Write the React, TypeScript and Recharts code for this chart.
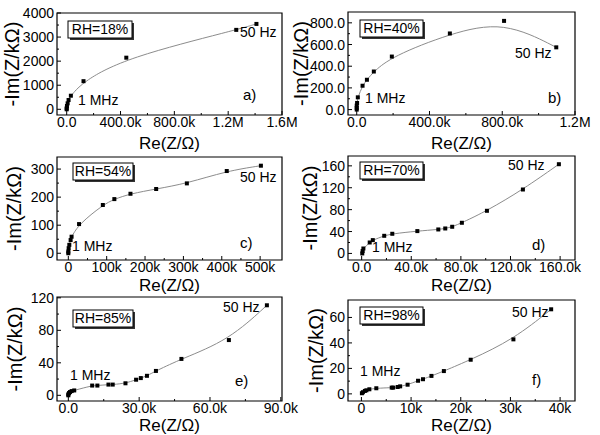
import { ComposedChart, XAxis, YAxis, Line, Scatter, ReferenceArea, Label } from 'recharts'

const FONT = '"Liberation Sans", Arial, sans-serif'

// RH = 18 % : Re(Z) in ohm, -Im(Z) in kohm, from 1 MHz to 50 Hz
const rh18Re = [0, 0, 2000, 7000, 14000, 31000, 125000, 443000, 1260000, 1410000]
const rh18Im = [0, 41, 137, 247, 385, 564, 1168, 2144, 3299, 3546]

// RH = 40 %
const rh40Re = [0, 0, 0, 2000, 6000, 32000, 56000, 94000, 193000, 512000, 810000, 1097000]
const rh40Im = [0, 15, 37, 61, 113, 220, 275, 351, 489, 702, 818, 574]

// RH = 54 %
const rh54Re = [0, 0, 900, 2600, 6000, 8500, 28000, 90000, 120000, 162000, 229000, 309000, 413000, 502000]
const rh54Im = [0, 6, 18, 30, 47, 59, 104, 172, 193, 212, 229, 249, 293, 312]

// RH = 70 %
const rh70Re = [500, 800, 1400, 6500, 9000, 18200, 24700, 44900, 61800, 67400, 73000, 80800, 101000, 130000, 159000]
const rh70Im = [0, 4.3, 9, 20, 24.3, 32.2, 35.9, 40.8, 43.8, 45.6, 48.7, 56, 77.9, 116.8, 163]

// RH = 85 %
const rh85Re = [0, 0, 300, 700, 1400, 2500, 10100, 12300, 17000, 18800, 24200, 28700, 30700, 33300, 37100, 47900, 68000, 84100]
const rh85Im = [0, 1.2, 2.8, 4, 5.2, 6, 12, 12, 13.2, 13.2, 14.8, 19.2, 21.2, 24, 30, 44.8, 68, 110.8]

// RH = 98 %
const rh98Re = [100, 300, 700, 1000, 1600, 3000, 6100, 6400, 7300, 7800, 9300, 11400, 12400, 14100, 16600, 22000, 30600, 38200]
const rh98Im = [0.5, 1.3, 2.3, 2.8, 3.6, 4.4, 4.9, 4.9, 5.4, 5.9, 7.2, 10.3, 11.5, 14.1, 17.9, 26.8, 42.8, 66.4]

// ticks
const aXTicks = [0, 400000, 800000, 1200000, 1600000]
const aXLabels = ['0.0', '400.0k', '800.0k', '1.2M', '1.6M']
const aXMinor = [200000, 600000, 1000000, 1400000]
const aYTicks = [0, 1000, 2000, 3000, 4000]
const aYLabels = ['0', '1000', '2000', '3000', '4000']
const aYMinor = [500, 1500, 2500, 3500]

const bXTicks = [0, 400000, 800000, 1200000]
const bXLabels = ['0.0', '400.0k', '800.0k', '1.2M']
const bXMinor = [200000, 600000, 1000000]
const bYTicks = [0, 200, 400, 600, 800]
const bYLabels = ['0.0', '200.0', '400.0', '600.0', '800.0']
const bYMinor = [100, 300, 500, 700]

const cXTicks = [0, 100000, 200000, 300000, 400000, 500000]
const cXLabels = ['0', '100k', '200k', '300k', '400k', '500k']
const cXMinor = [50000, 150000, 250000, 350000, 450000]
const cYTicks = [0, 100, 200, 300]
const cYLabels = ['0', '100', '200', '300']
const cYMinor = [50, 150, 250]

const dXTicks = [0, 40000, 80000, 120000, 160000]
const dXLabels = ['0.0', '40.0k', '80.0k', '120.0k', '160.0k']
const dXMinor = [20000, 60000, 100000, 140000]
const dYTicks = [0, 40, 80, 120, 160]
const dYLabels = ['0', '40', '80', '120', '160']
const dYMinor = [20, 60, 100, 140]

const eXTicks = [0, 30000, 60000, 90000]
const eXLabels = ['0.0', '30.0k', '60.0k', '90.0k']
const eXMinor = [15000, 45000, 75000]
const eYTicks = [0, 40, 80, 120]
const eYLabels = ['0', '40', '80', '120']
const eYMinor = [20, 60, 100]

const fXTicks = [0, 10000, 20000, 30000, 40000]
const fXLabels = ['0', '10k', '20k', '30k', '40k']
const fXMinor = [5000, 15000, 25000, 35000]
const fYTicks = [0, 20, 40, 60]
const fYLabels = ['0', '20', '40', '60']
const fYMinor = [10, 30, 50]

const panels = [
  {
    id: 'a', rh: 'RH=18%', re: rh18Re, im: rh18Im,
    xDomain: [-72000, 1600000], yDomain: [-237, 4000],
    xTicks: aXTicks, xLabels: aXLabels, xMinor: aXMinor,
    yTicks: aYTicks, yLabels: aYLabels, yMinor: aYMinor,
    left: 0, top: 0, width: 300, height: 152, mTop: 13, mRight: 18, yw: 57, xh: 37,
    yOff: 12, xOff: 3, tickDy: 12,
  },
  {
    id: 'b', rh: 'RH=40%', re: rh40Re, im: rh40Im,
    xDomain: [-48000, 1200000], yDomain: [-50, 900],
    xTicks: bXTicks, xLabels: bXLabels, xMinor: bXMinor,
    yTicks: bYTicks, yLabels: bYLabels, yMinor: bYMinor,
    left: 290, top: 0, width: 310, height: 152, mTop: 12, mRight: 25, yw: 58, xh: 37,
    yOff: 11, xOff: 3, tickDy: 12,
  },
  {
    id: 'c', rh: 'RH=54%', re: rh54Re, im: rh54Im,
    xDomain: [-29500, 557000], yDomain: [-24, 343],
    xTicks: cXTicks, xLabels: cXLabels, xMinor: cXMinor,
    yTicks: cYTicks, yLabels: cYLabels, yMinor: cYMinor,
    left: 0, top: 140, width: 300, height: 155, mTop: 17, mRight: 18, yw: 57, xh: 35,
    yOff: 14, xOff: 4, tickDy: 12,
  },
  {
    id: 'd', rh: 'RH=70%', re: rh70Re, im: rh70Im,
    xDomain: [-11000, 172000], yDomain: [-12, 178],
    xTicks: dXTicks, xLabels: dXLabels, xMinor: dXMinor,
    yTicks: dYTicks, yLabels: dYLabels, yMinor: dYMinor,
    left: 290, top: 140, width: 310, height: 155, mTop: 16, mRight: 25, yw: 58, xh: 35,
    yOff: 20, xOff: 4, tickDy: 12,
  },
  {
    id: 'e', rh: 'RH=85%', re: rh85Re, im: rh85Im,
    xDomain: [-4800, 90500], yDomain: [-7, 121],
    xTicks: eXTicks, xLabels: eXLabels, xMinor: eXMinor,
    yTicks: eYTicks, yLabels: eYLabels, yMinor: eYMinor,
    left: 0, top: 285, width: 300, height: 150, mTop: 12, mRight: 18, yw: 57, xh: 34,
    yOff: 15, xOff: 4, tickDy: 11.5,
  },
  {
    id: 'f', rh: 'RH=98%', re: rh98Re, im: rh98Im,
    xDomain: [-2700, 43000], yDomain: [-5.6, 73.7],
    xTicks: fXTicks, xLabels: fXLabels, xMinor: fXMinor,
    yTicks: fYTicks, yLabels: fYLabels, yMinor: fYMinor,
    left: 290, top: 285, width: 310, height: 150, mTop: 15, mRight: 25, yw: 58, xh: 34,
    yOff: 26, xOff: 4, tickDy: 11.5,
  },
]

// annotation placement (page coordinates, text baselines)
const notes = [
  { box: [68, 21, 64, 17], hz: [240, 37], mhz: [78, 105], tag: [243, 100] },
  { box: [360, 20, 63, 17], hz: [515, 58], mhz: [365, 103], tag: [548, 103] },
  { box: [73, 163, 60, 17], hz: [240, 182], mhz: [72, 251], tag: [240, 248] },
  { box: [360, 162, 63, 17], hz: [508, 170], mhz: [372, 252], tag: [532, 250] },
  { box: [73, 310, 60, 17], hz: [223, 312], mhz: [70, 380], tag: [235, 386] },
  { box: [360, 307, 63, 17], hz: [512, 317], mhz: [360, 376], tag: [532, 385] },
]

const xTick = (ticks: number[], labels: string[], dy: number) => (props: any) => {
  const { x, y, payload } = props
  const i = ticks.indexOf(payload.value)
  const major = i >= 0
  return (
    <g>
      <line x1={x} x2={x} y1={y} y2={y - (major ? 4 : 2)} stroke="#000" />
      {major && (
        <text x={x} y={y + dy} textAnchor="middle" fontSize={14} fontFamily={FONT} fill="#000">
          {labels[i]}
        </text>
      )}
    </g>
  )
}

const yTick = (ticks: number[], labels: string[]) => (props: any) => {
  const { x, y, payload } = props
  const i = ticks.indexOf(payload.value)
  const major = i >= 0
  return (
    <g>
      <line x1={x} x2={x + (major ? 4 : 2)} y1={y} y2={y} stroke="#000" />
      {major && (
        <text x={x - 3} y={y + 5} textAnchor="end" fontSize={14} fontFamily={FONT} fill="#000">
          {labels[i]}
        </text>
      )}
    </g>
  )
}

const square = (props: any) => (
  <rect x={props.cx - 2} y={props.cy - 2} width={4} height={4} fill="#000" />
)

function Panel({ p }: { p: any }) {
  const data = p.re.map((x: number, i: number) => ({ x, y: p.im[i] }))
  return (
    <div style={{ position: 'absolute', left: p.left, top: p.top }}>
      <ComposedChart
        width={p.width}
        height={p.height}
        data={data}
        margin={{ top: p.mTop, right: p.mRight, bottom: 0, left: 0 }}
      >
        <XAxis
          type="number"
          dataKey="x"
          domain={p.xDomain}
          allowDataOverflow
          ticks={[...p.xTicks, ...p.xMinor]}
          interval={0}
          tick={xTick(p.xTicks, p.xLabels, p.tickDy)}
          tickLine={false}
          tickSize={0}
          tickMargin={0}
          axisLine={false}
          height={p.xh}
        >
          <Label
            value="Re(Z/Ω)"
            position="insideBottom"
            offset={p.xOff}
            fill="#000"
            style={{ fontSize: 17, fontFamily: FONT }}
          />
        </XAxis>
        <YAxis
          type="number"
          domain={p.yDomain}
          allowDataOverflow
          ticks={[...p.yTicks, ...p.yMinor]}
          interval={0}
          tick={yTick(p.yTicks, p.yLabels)}
          tickLine={false}
          tickSize={0}
          tickMargin={0}
          axisLine={false}
          width={p.yw}
        >
          <Label
            value="-Im(Z/kΩ)"
            angle={-90}
            position="insideLeft"
            offset={p.yOff}
            fill="#000"
            style={{ fontSize: 20, fontFamily: FONT, textAnchor: 'middle' }}
          />
        </YAxis>
        <ReferenceArea
          x1={p.xDomain[0]}
          x2={p.xDomain[1]}
          y1={p.yDomain[0]}
          y2={p.yDomain[1]}
          fill="none"
          stroke="#000"
          strokeWidth={1.2}
        />
        <Line
          dataKey="y"
          type="basis"
          stroke="#8c8c8c"
          strokeWidth={1}
          dot={false}
          activeDot={false}
          isAnimationActive={false}
        />
        <Scatter dataKey="y" shape={square} isAnimationActive={false} />
      </ComposedChart>
    </div>
  )
}

export default function App() {
  return (
    <div style={{ position: 'absolute', left: 0, top: 0, width: 600, height: 435, background: '#fff' }}>
      {panels.map((p) => (
        <Panel key={p.id} p={p} />
      ))}
      <svg
        width={600}
        height={435}
        style={{ position: 'absolute', left: 0, top: 0, pointerEvents: 'none' }}
        fontFamily={FONT}
      >
        {notes.map((n, i) => {
          const [bx, by, bw, bh] = n.box
          return (
            <g key={i}>
              <rect x={bx + 2} y={by + 2} width={bw} height={bh} fill="#333" />
              <rect x={bx} y={by} width={bw} height={bh} fill="#fff" stroke="#000" />
              <text x={bx + bw / 2} y={by + bh - 4} textAnchor="middle" fontSize={14}>
                {panels[i].rh}
              </text>
              <text x={n.hz[0]} y={n.hz[1]} fontSize={14}>50 Hz</text>
              <text x={n.mhz[0]} y={n.mhz[1]} fontSize={14}>1 MHz</text>
              <text x={n.tag[0]} y={n.tag[1]} fontSize={15}>{panels[i].id})</text>
            </g>
          )
        })}
      </svg>
    </div>
  )
}
